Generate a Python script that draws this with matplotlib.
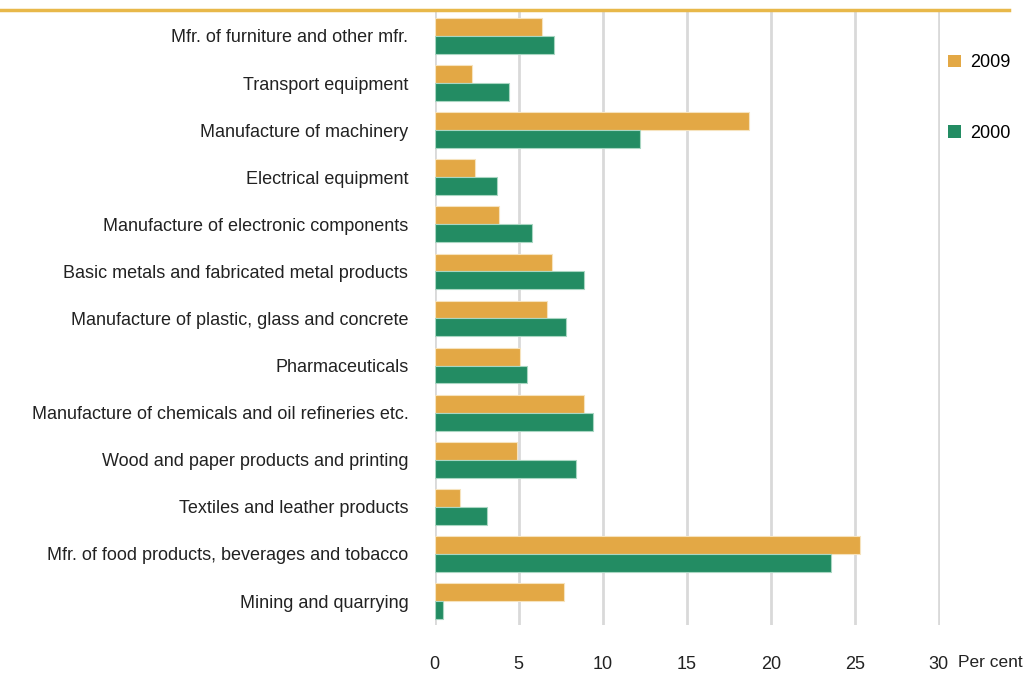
import numpy as np
import matplotlib
matplotlib.use("Agg")
import matplotlib.pyplot as plt
from matplotlib.lines import Line2D

# Categories, top to bottom as drawn
categories = [
    "Mfr. of furniture and other mfr.",
    "Transport equipment",
    "Manufacture of machinery",
    "Electrical equipment",
    "Manufacture of electronic components",
    "Basic metals and fabricated metal products",
    "Manufacture of plastic, glass and concrete",
    "Pharmaceuticals",
    "Manufacture of chemicals and oil refineries etc.",
    "Wood and paper products and printing",
    "Textiles and leather products",
    "Mfr. of food products, beverages and tobacco",
    "Mining and quarrying",
]
share_2009 = [6.4, 2.2, 18.7, 2.4, 3.8, 7.0, 6.7, 5.1, 8.9, 4.9, 1.5, 25.3, 7.7]
share_2000 = [7.1, 4.4, 12.2, 3.7, 5.8, 8.9, 7.8, 5.5, 9.4, 8.4, 3.1, 23.6, 0.5]
xticks = [0, 5, 10, 15, 20, 25, 30]

orange = "#E3A845"
green = "#238C63"

plt.rcParams["font.family"] = ["Liberation Sans", "DejaVu Sans"]

fig = plt.figure(figsize=(10.26, 6.73), dpi=100)
ax = fig.add_axes([0.4237, 0.0713, 0.4925, 0.9109])

y = np.arange(len(categories))
h = 0.38
ax.barh(y - h / 2, share_2009, height=h, color=orange, edgecolor="#F6E3BE", linewidth=0.8, label="2009", zorder=3)
ax.barh(y + h / 2, share_2000, height=h, color=green, edgecolor="#A9D6C2", linewidth=0.8, label="2000", zorder=3)

ax.set_ylim(len(categories) - 0.49, -0.51)
ax.set_xlim(0, 30.08)
ax.set_yticks(y)
ax.set_yticklabels(categories, fontsize=13, color="#222222")
ax.set_xticks(xticks)
ax.set_xticklabels([str(t) for t in xticks], fontsize=13, color="#222222")
ax.tick_params(axis="y", length=0, pad=19)
ax.tick_params(axis="x", length=0, pad=22)

ax.grid(axis="x", color="#D9D9D9", linewidth=2, zorder=0)
ax.grid(axis="y", visible=False)
for s in ax.spines.values():
    s.set_visible(False)

fig.text(0.9335, 0.0085, "Per cent", fontsize=12.5, color="#222222", ha="left", va="baseline")

# orange rule along the top
fig.add_artist(Line2D([0, 0.983], [0.985, 0.985], color="#E8B84A", linewidth=2.5))

handles, labels = ax.get_legend_handles_labels()
leg = fig.legend(handles, labels, loc="upper left", bbox_to_anchor=(0.917, 0.93),
                 frameon=False, fontsize=13, handlelength=0.7, handleheight=0.7,
                 handletextpad=0.5, labelspacing=2.95, borderaxespad=0)
for p in leg.get_patches():
    p.set_edgecolor("none")

fig.savefig("out.png", dpi=100)
